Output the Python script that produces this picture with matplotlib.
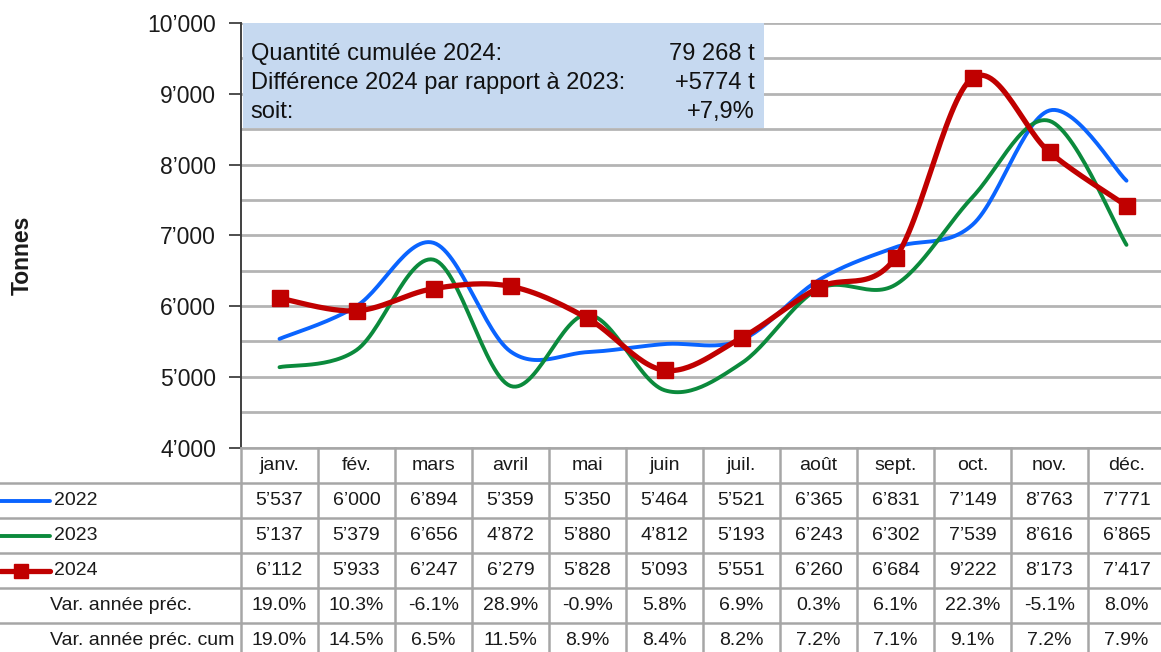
import numpy as np
import matplotlib
matplotlib.use("Agg")
import matplotlib.pyplot as plt
from matplotlib import font_manager
from matplotlib.transforms import blended_transform_factory
from matplotlib.patches import Rectangle

# ---------------- data ----------------
months = ["janv.", "fév.", "mars", "avril", "mai", "juin", "juil.", "août",
          "sept.", "oct.", "nov.", "déc."]
years = ["2022", "2023", "2024"]
v2022 = [5537, 6000, 6894, 5359, 5350, 5464, 5521, 6365, 6831, 7149, 8763, 7771]
v2023 = [5137, 5379, 6656, 4872, 5880, 4812, 5193, 6243, 6302, 7539, 8616, 6865]
v2024 = [6112, 5933, 6247, 6279, 5828, 5093, 5551, 6260, 6684, 9222, 8173, 7417]
var_prev = [19.0, 10.3, -6.1, 28.9, -0.9, 5.8, 6.9, 0.3, 6.1, 22.3, -5.1, 8.0]
var_cum = [19.0, 14.5, 6.5, 11.5, 8.9, 8.4, 8.2, 7.2, 7.1, 9.1, 7.2, 7.9]
row_labels = ["Var. année préc.", "Var. année préc. cum"]
box_left = ["Quantité cumulée 2024:", "Différence 2024 par rapport à 2023:", "soit:"]
box_right = ["79 268 t", "+5774 t", "+7,9%"]
y_ticks = [4000, 5000, 6000, 7000, 8000, 9000, 10000]

colors = {"2022": "#0a64ff", "2023": "#0b8a3c", "2024": "#c00000"}
series = {"2022": v2022, "2023": v2023, "2024": v2024}

# ---------------- fonts ----------------
avail = {f.name for f in font_manager.fontManager.ttflist}
if "Liberation Sans Narrow" in avail:
    NARROW, TFS, BFS = "Liberation Sans Narrow", 16.5, 20
else:
    NARROW, TFS, BFS = "Liberation Sans", 14, 17
REG = "Liberation Sans"
TXT = "#1a1a1a"


def fmt(v):
    return f"{v:,}".replace(",", "\u2019")


def smooth(y, n=30):
    """Catmull-Rom style smoothing similar to Excel's smoothed lines."""
    y = np.asarray(y, float)
    x = np.arange(len(y), dtype=float)
    px = np.concatenate([[x[0]], x, [x[-1]]])
    py = np.concatenate([[y[0]], y, [y[-1]]])
    xs, ys = [], []
    for i in range(1, len(px) - 2):
        p0 = np.array([px[i], py[i]])
        p3 = np.array([px[i + 1], py[i + 1]])
        c1 = p0 + (np.array([px[i + 1], py[i + 1]]) - np.array([px[i - 1], py[i - 1]])) / 6
        c2 = p3 - (np.array([px[i + 2], py[i + 2]]) - np.array([px[i], py[i]])) / 6
        t = np.linspace(0, 1, n)[:, None]
        b = (1 - t) ** 3 * p0 + 3 * (1 - t) ** 2 * t * c1 + 3 * (1 - t) * t ** 2 * c2 + t ** 3 * p3
        xs.append(b[:, 0]); ys.append(b[:, 1])
    return np.concatenate(xs), np.concatenate(ys)


W, H = 1161, 652
fig = plt.figure(figsize=(W / 100, H / 100), dpi=100)

# main axes (pixel geometry)
ax_l, ax_r, ax_t, ax_b = 241, 1165, 22.9, 447.7
ax = fig.add_axes([ax_l / W, 1 - ax_b / H, (ax_r - ax_l) / W, (ax_b - ax_t) / H])
ax.set_xlim(-0.5, len(months) - 0.5)
ax.set_ylim(y_ticks[0], y_ticks[-1])
ax.set_yticks(y_ticks)
ax.set_yticklabels([fmt(v) for v in y_ticks], fontsize=16.5, family=REG, color=TXT)
ax.set_yticks(np.arange(y_ticks[0] + 500, y_ticks[-1] + 1, 500), minor=True)
ax.tick_params(axis="y", which="major", length=9, width=1.3, color="#404040", pad=9)
ax.tick_params(axis="y", which="minor", length=0)
ax.set_xticks([])
ax.grid(axis="y", which="both", color="#b4b4b4", linewidth=2)
ax.set_axisbelow(True)
for s in ["top", "right", "bottom"]:
    ax.spines[s].set_visible(False)
ax.spines["left"].set_color("#404040")
ax.spines["left"].set_linewidth(1.4)

for yr in years:
    xs, ys = smooth(series[yr])
    lw = 3.8 if yr == "2024" else 2.8
    ax.plot(xs, ys, color=colors[yr], lw=lw, solid_capstyle="round", zorder=3)
ax.plot(np.arange(len(months)), v2024, linestyle="none", marker="s", markersize=11,
        color=colors["2024"], zorder=4)

fig.text(22 / W, 1 - 255 / H, "Tonnes", rotation=90, ha="center", va="center",
         fontsize=16.5, fontweight="bold", family=REG, color=TXT)

# overlay axes in pixel coordinates
ov = fig.add_axes([0, 0, 1, 1], zorder=5)
ov.set_xlim(0, W)
ov.set_ylim(H, 0)
ov.axis("off")
ov.patch.set_visible(False)

# info box
ov.add_patch(Rectangle((242.7, 23.3), 764 - 242.7, 127.7 - 23.3, facecolor="#c6d9f0",
                       edgecolor="none"))
for i, (lt, rt) in enumerate(zip(box_left, box_right)):
    yb = 60 + 29 * i
    ov.text(250.7, yb, lt, ha="left", va="baseline", fontsize=BFS, family=NARROW, color="#111111")
    ov.text(755, yb, rt, ha="right", va="baseline", fontsize=BFS, family=NARROW, color="#111111")

# table
tr = blended_transform_factory(ax.transData, ov.transData)
row_edges = [447.7, 483.3, 518.3, 553.3, 588.3, 623.3, 658.3]
gray = "#a6a6a6"
for yy in row_edges[1:]:
    ov.plot([0, W + 5], [yy, yy], color=gray, lw=1.8, clip_on=False)
ov.plot([ax_l, W + 5], [row_edges[0], row_edges[0]], color=gray, lw=1.8, clip_on=False)
for i in range(len(months) + 1):
    ov.plot([i - 0.5, i - 0.5], [row_edges[0], H + 5], color=gray, lw=1.8,
            transform=tr, clip_on=False)

cy = [(row_edges[k] + row_edges[k + 1]) / 2 for k in range(6)]
rows_text = [months,
             [fmt(v) for v in v2022],
             [fmt(v) for v in v2023],
             [fmt(v) for v in v2024],
             [f"{v:.1f}%" for v in var_prev],
             [f"{v:.1f}%" for v in var_cum]]
for r, vals in enumerate(rows_text):
    for i, t in enumerate(vals):
        ov.text(i, cy[r], t, transform=tr, ha="center", va="center", fontsize=TFS,
                family=NARROW, color=TXT)

# legend keys in the table
for k, yr in enumerate(years):
    yy = cy[k + 1]
    lw = 3.8 if yr == "2024" else 2.8
    ov.plot([0, 50], [yy, yy], color=colors[yr], lw=lw, solid_capstyle="round", clip_on=False)
    if yr == "2024":
        ov.plot([21], [yy], marker="s", markersize=10, color=colors[yr], linestyle="none")
    ov.text(54, yy, yr, ha="left", va="center", fontsize=TFS, family=NARROW, color=TXT)
for k, lab in enumerate(row_labels):
    ov.text(50, cy[4 + k], lab, ha="left", va="center", fontsize=TFS, family=NARROW, color=TXT)

fig.savefig("out.png", dpi=100)
